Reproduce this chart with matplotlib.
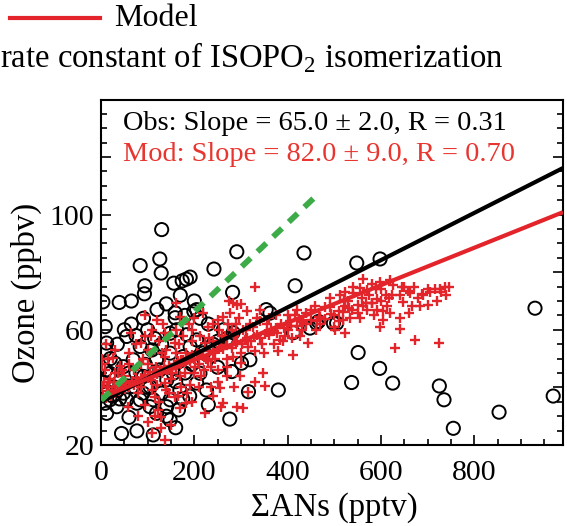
import matplotlib
matplotlib.use("Agg")
import matplotlib.pyplot as plt
from matplotlib.ticker import MultipleLocator, FuncFormatter
from matplotlib.lines import Line2D
import numpy as np

plt.rcParams['font.family'] = ['Liberation Serif', 'DejaVu Serif']
plt.rcParams['mathtext.fontset'] = 'custom'
plt.rcParams['mathtext.rm'] = 'Liberation Serif'

RED = '#e3242b'
GREEN = '#3cab48'

# observed ozone vs total alkyl nitrates (pptv, ppbv)
obs_x = [39, 84, 130, 126, 129, 94, 93, 156, 174, 183, 191, 242, 291, 282, 435, 416,
         159, 199, 354, 548, 598, 551, 597, 537, 625, 725, 735, 755, 853, 930, 969,
         466, 498, 448, 380, 276, 316, 112, 44, 77, 148, 60, 9, 12, 9, 55, 91, 159,
         184, 205, 212, 262, 283, 362, 412, 462, 505, 301, 319, 280, 212, 205, 226,
         169, 148, 141, 166, 77, 12, 9, 19, 30, 48, 69, 84, 109, 119, 126, 141, 155,
         176, 191, 205, 162, 148, 148, 91, 105, 69, 48, 26, 19, 34, 55, 84, 112, 119,
         105, 5, 15, 25, 3, 35, 10, 40, 4,
         20, 35, 50, 65, 75, 100, 115, 130, 95, 60, 75, 90, 130, 160, 180, 195, 220,
         240, 250, 230, 180, 200, 120, 140, 170, 65, 100, 40, 140, 160, 175, 190, 230,
         250, 270]
obs_y = [69.5, 82.3, 94.8, 84.6, 79.7, 75.3, 72.5, 76.2, 77.0, 77.6, 78.3, 81.1, 87.1,
         73.0, 86.7, 75.3, 65.9, 66.4, 67.0, 83.2, 84.6, 52.1, 46.6, 41.7, 41.5, 40.5,
         35.7, 25.8, 31.4, 67.5, 37.0, 62.9, 62.3, 60.6, 39.1, 29.0, 38.5, 23.5, 24.0,
         24.9, 28.7, 29.6, 61.1, 55.4, 53.0, 57.7, 64.0, 64.2, 58.3, 67.0, 64.0, 60.0,
         59.0, 65.8, 59.0, 62.3, 62.3, 48.4, 49.6, 45.5, 44.9, 41.5, 39.1, 39.1, 35.7,
         33.3, 32.2, 34.5, 31.0, 34.5, 44.9, 48.4, 47.2, 49.6, 54.2, 53.0, 49.6, 46.1,
         42.6, 44.9, 50.7, 54.2, 56.5, 60.0, 58.8, 51.9, 43.8, 40.3, 40.3, 38.0, 40.3,
         35.7, 33.3, 35.7, 35.7, 35.7, 31.0, 33.3, 38.0, 38.5, 37.0, 42.0, 39.0, 46.0,
         42.0, 69.7,
         50.0, 55.0, 60.0, 62.0, 58.0, 60.0, 57.0, 55.0, 48.0, 45.0, 45.0, 38.0, 38.0,
         42.0, 45.0, 48.0, 52.0, 55.0, 47.0, 62.0, 65.0, 70.0, 67.0, 69.0, 72.0, 70.0,
         40.0, 36.0, 30.0, 26.0, 36.0, 37.0, 34.0, 56.0, 57.0]

# modelled ozone vs total alkyl nitrates
mod_x = [562, 598, 619, 626, 644, 662, 687, 705, 727, 737, 729, 701, 684, 666, 648, 623,
         612, 605, 591, 580, 569, 555, 541, 523, 569, 555, 534, 519, 605, 598, 584, 641,
         673, 725, 630,
         330, 291, 312, 276, 262, 341, 459, 491, 512, 523, 469, 426, 398, 376, 355, 334,
         312, 291, 269, 384, 426, 444, 501, 523, 380, 412, 330, 348, 351, 330, 316, 298,
         291, 305, 262, 255, 301, 283, 269,
         161, 94, 119, 169, 137, 65, 86, 194, 229, 251, 222, 26, 8, 36, 108, 137, 172,
         201, 86, 115, 108, 137, 172, 158, 183, 122, 129, 129, 137, 58, 222, 258, 236,
         215, 236, 258, 158, 108, 41,
         5, 11, 16, 21, 24, 31, 36, 39, 46, 51, 54, 61, 66, 71, 76, 79, 86, 91, 94, 101,
         106, 111, 114, 121, 126, 131, 134, 141, 146, 151, 156, 161, 164, 171, 176, 181,
         186, 191, 194, 199, 211, 219, 231, 239, 252, 261, 268, 281, 289, 302, 309, 322,
         328, 341, 352, 359, 371, 378, 392, 401, 408, 421, 432, 439, 451, 462, 468, 481,
         492, 499, 511, 519, 532, 538, 551, 562, 568, 581, 592, 601, 618, 641, 658,
         20, 30, 50, 60, 70, 80, 90, 100, 110, 120, 130, 140, 150, 160, 170, 180, 190,
         200, 210, 220, 230, 240, 250, 260, 270, 280, 290, 300, 310, 320, 340, 350, 360,
         370, 390, 400, 410, 420, 440, 460, 480, 500, 520, 540, 560, 580, 600, 620, 640,
         660, 680, 700, 720, 740, 283, 275, 300, 3, 2,
         60, 75, 85, 95, 100, 110, 118, 125, 132, 140, 145, 152, 160, 168, 175, 182, 188,
         195, 200, 205, 212, 218, 225, 232, 240, 245, 252, 265, 272, 285, 295, 305, 315,
         325, 335, 345, 355, 365, 375, 385, 395, 405, 415, 430, 450, 470, 490, 510, 530,
         550, 575, 590, 610, 650, 670, 690, 715, 745,
         80, 95, 100, 115, 125, 145, 165, 185, 195, 210, 240, 250, 270, 285, 110, 150,
         170, 2, 6, 12, 18, 28, 38, 45, 15, 30, 10]
mod_y = [77.6, 76.5, 77.4, 75.7, 75.0, 72.8, 72.5, 73.3, 74.2, 74.9, 73.1, 68.7, 68.3,
         68.1, 69.5, 72.2, 68.1, 66.4, 67.0, 69.3, 73.9, 74.5, 72.8, 73.3, 67.0, 64.1,
         64.1, 63.5, 63.5, 60.9, 65.2, 60.2, 56.5, 55.4, 53.6,
         74.9, 68.7, 66.4, 65.8, 64.6, 67.0, 68.1, 71.0, 72.2, 68.1, 64.6, 63.5, 61.7,
         60.6, 59.4, 58.3, 57.1, 55.9, 54.8, 56.5, 57.7, 55.4, 60.0, 58.8, 52.5, 51.3,
         52.5, 44.9, 40.5, 42.0, 38.5, 43.8, 33.3, 32.8, 34.5, 39.7, 48.4, 50.7, 50.0,
         69.3, 65.2, 63.5, 64.6, 58.8, 58.8, 55.4, 60.0, 61.1, 63.5, 55.4, 50.2, 46.1,
         44.9, 51.9, 50.7, 49.6, 47.2, 40.3, 36.8, 42.6, 41.4, 40.3, 36.8, 34.5, 32.2,
         29.8, 25.8, 21.7, 33.3, 31.0, 33.3, 40.3, 43.8, 47.2, 54.2, 55.4, 57.7, 47.6,
         37.5, 36.2, 38.6, 37.1, 39.2, 38.0, 40.1, 38.8, 41.3, 39.6, 41.7, 40.2, 42.2,
         41.0, 43.3, 42.1, 43.4, 42.7, 44.2, 43.1, 45.2, 44.0, 45.4, 44.6, 46.1, 45.1,
         47.2, 46.0, 47.6, 46.4, 48.1, 47.2, 49.1, 48.0, 49.4, 48.7, 50.2, 49.0, 51.1,
         50.0, 51.6, 50.9, 52.6, 52.1, 53.4, 53.2, 54.6, 53.8, 55.7, 55.0, 56.4, 56.2,
         57.6, 57.1, 58.4, 58.2, 59.6, 58.8, 60.7, 60.0, 61.4, 61.2, 62.6, 61.9, 63.4,
         63.2, 64.6, 63.9, 65.6, 65.1, 66.4, 66.2, 67.6, 66.8, 68.6, 68.1, 69.4, 69.2,
         70.6, 70.0, 71.1, 72.1, 73.4,
         43.0, 45.0, 44.0, 48.0, 46.0, 38.0, 50.0, 48.0, 39.0, 41.0, 52.0, 39.0, 43.0,
         52.0, 44.0, 45.0, 41.0, 45.0, 48.0, 46.0, 49.0, 56.0, 46.0, 58.0, 47.0, 60.0,
         62.0, 52.0, 60.0, 62.0, 63.0, 52.0, 64.0, 55.0, 56.0, 65.0, 57.0, 67.0, 66.0,
         60.0, 68.0, 61.0, 70.0, 75.0, 71.0, 76.0, 74.0, 66.0, 64.0, 66.0, 71.0, 74.0,
         70.0, 72.0, 69.3, 70.0, 69.0, 48.0, 50.0,
         52.0, 55.0, 48.0, 58.0, 53.0, 60.0, 47.0, 56.0, 62.0, 53.0, 58.0, 45.0, 60.0,
         55.0, 58.0, 52.0, 62.0, 56.0, 64.0, 52.0, 58.0, 66.0, 50.0, 57.0, 62.0, 50.0,
         60.0, 58.0, 62.0, 58.0, 64.0, 60.0, 54.0, 61.0, 64.0, 55.0, 62.0, 60.0, 65.0,
         62.0, 58.0, 63.0, 65.0, 60.0, 67.0, 62.0, 68.0, 63.0, 70.0, 66.0, 72.0, 74.0,
         72.0, 75.0, 75.0, 72.0, 74.0, 75.0,
         30.0, 34.0, 28.0, 30.0, 35.0, 38.0, 37.0, 38.0, 35.0, 40.0, 37.0, 42.0, 44.0,
         40.0, 24.0, 27.0, 33.0, 40.0, 42.0, 40.0, 42.0, 42.0, 41.0, 46.0, 50.0, 53.0,
         55.0]

# linear fits: (intercept ppbv, slope ppbv/pptv)
obs_fit = (35.0, 0.082)
mod_fit = (36.5, 0.065)
isom_fit = (35.5, 0.154)
isom_xmax = 467

obs_label = 'Obs: Slope = 65.0 \u00b1 2.0, R = 0.31'
mod_label = 'Mod: Slope = 82.0 \u00b1 9.0, R = 0.70'

xlim = (0, 990)
ylim = (20, 139.8)

fig = plt.figure(figsize=(5.67, 5.26), dpi=100)
ax = fig.add_axes([101 / 567, 1 - 445 / 526, 462 / 567, 345 / 526])

ax.scatter(obs_x, obs_y, s=90, facecolors='none', edgecolors='black',
           linewidths=1.4, zorder=2)
ax.scatter(mod_x, mod_y, s=50, marker='+', color=RED, linewidths=1.7, zorder=3)

xx = np.array(xlim)
ax.plot(xx, obs_fit[0] + obs_fit[1] * xx, color='black', lw=3, zorder=4,
        solid_capstyle='butt')
ax.plot(xx, mod_fit[0] + mod_fit[1] * xx, color=RED, lw=3, zorder=5,
        solid_capstyle='butt')
gx = np.array([0, isom_xmax])
ax.plot(gx, isom_fit[0] + isom_fit[1] * gx, color=GREEN, lw=4.2,
        dashes=(2.1, 1.6), zorder=6)

ax.set_xlim(*xlim)
ax.set_ylim(*ylim)

ax.xaxis.set_major_locator(MultipleLocator(200))
ax.xaxis.set_minor_locator(MultipleLocator(50))
ax.yaxis.set_major_locator(MultipleLocator(20))
ax.yaxis.set_minor_locator(MultipleLocator(5))
ax.yaxis.set_major_formatter(FuncFormatter(
    lambda v, p: f'{v:.0f}' if round(v - 20) % 40 == 0 else ''))
ax.tick_params(which='both', direction='in', right=True, top=False,
               labelsize=21.5, width=1.2)
ax.tick_params(which='major', length=7)
ax.tick_params(which='minor', length=4)
ax.tick_params(axis='x', pad=11)
ax.tick_params(axis='y', pad=5)
for sp in ax.spines.values():
    sp.set_linewidth(1.5)

ax.set_xlabel('\u03a3ANs (pptv)', fontsize=23.5)
ax.set_ylabel('Ozone (ppbv)', fontsize=23.5)
ax.xaxis.set_label_coords(0.504, -0.136)
ax.yaxis.set_label_coords(-0.128, 0.44)

ax.text(0.048, 0.933, obs_label, transform=ax.transAxes, fontsize=20.4,
        color='black', va='center', ha='left', zorder=7)
ax.text(0.048, 0.841, mod_label, transform=ax.transAxes, fontsize=20.4,
        color='#e8352f', va='center', ha='left', zorder=7)

# legend fragment above the panel
fig.add_artist(Line2D([10 / 567, 100 / 567], [1 - 18 / 526, 1 - 18 / 526],
                      color=RED, lw=3, transform=fig.transFigure))
fig.text(114 / 567, 1 - 18 / 526, 'Model', fontsize=23, va='center', ha='left')
fig.text(0, 1 - 58 / 526, 'rate constant of ISOPO$_{2}$ isomerization',
         fontsize=23.5, va='center', ha='left')

fig.savefig('out.png', dpi=100)
